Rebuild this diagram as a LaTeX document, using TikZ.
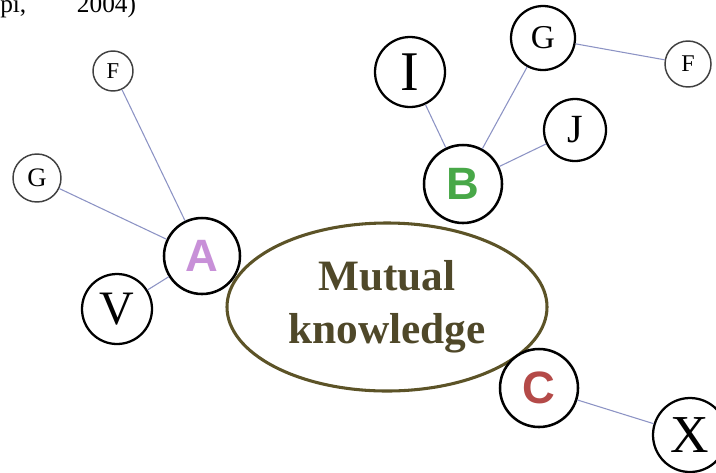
\documentclass[tikz,border=0pt]{standalone}
\usepackage{fontspec}
\setmainfont{Liberation Serif}
\setsansfont{Liberation Sans}
\usetikzlibrary{shapes.geometric}
\definecolor{linkblue}{HTML}{8C93C4}
\definecolor{olive}{HTML}{5C5327}
\definecolor{olivetext}{HTML}{4F4829}
\definecolor{orchidA}{HTML}{C890D8}
\definecolor{greenB}{HTML}{48A848}
\definecolor{redC}{HTML}{B44A48}

\begin{document}
\begin{tikzpicture}[x=0.75pt,y=-0.75pt]
    \tikzstyle{agent}=[circle,draw=black,fill=white,line width=1.9pt,inner sep=0pt,minimum size=57pt,font=\sffamily\bfseries\fontsize{34}{34}\selectfont]
    \tikzstyle{concept}=[circle,draw=black,fill=white,line width=1.7pt,inner sep=0pt]
    \tikzstyle{small concept}=[concept,draw=black!75,line width=1.1pt]
    \tikzstyle{link}=[draw=linkblue,line width=0.8pt]
    \tikzstyle{core}=[ellipse,draw=olive,line width=2.3pt,fill=white,minimum width=240pt,minimum height=126pt,align=center,text=olivetext,font=\bfseries\fontsize{32.5}{40}\selectfont]

    \useasboundingbox (0,0) rectangle (716,472);
    \clip (0,0) rectangle (716,472);

    % cut-off citation at the top edge
    \node[anchor=base west,inner sep=0pt,font=\fontsize{19}{19}\selectfont] (cite) at (0,12) {pi,\hspace{38pt}2004)};

    % centre
    \node[core] (MK) at (387,307) {Mutual\\knowledge};

    % agents
    \node[agent,text=orchidA] (A) at (202,256) {A};
    \node[agent,text=greenB,minimum size=58.5pt] (B) at (463,184) {B};
    \node[agent,text=redC,minimum size=58.5pt] (C) at (539,388) {C};

    % concepts round A
    \node[concept,minimum size=52.5pt,font=\fontsize{36}{36}\selectfont] (V) at (117,309) {V};
    \node[small concept,minimum size=36pt,font=\fontsize{20}{20}\selectfont] (GA) at (37,178) {G};
    \node[small concept,minimum size=30pt,font=\fontsize{17}{17}\selectfont] (FA) at (113,71) {F};

    % concepts round B
    \node[concept,minimum size=52.5pt,font=\fontsize{42}{42}\selectfont] (I) at (410,72) {I};
    \node[concept,minimum size=48pt,font=\fontsize{25}{25}\selectfont] (GB) at (543,38) {G};
    \node[small concept,minimum size=34.5pt,font=\fontsize{18}{18}\selectfont] (FB) at (688,64) {F};
    \node[concept,minimum size=46.5pt,font=\fontsize{30}{30}\selectfont] (J) at (575,130) {J};

    % concept of C
    \node[concept,minimum size=55.5pt,font=\fontsize{40}{40}\selectfont] (X) at (690,435) {X};

    \draw[link] (FA) -- (A);
    \draw[link] (GA) -- (A);
    \draw[link] (V) -- (A);
    \draw[link] (I) -- (B);
    \draw[link] (GB) -- (B);
    \draw[link] (J) -- (B);
    \draw[link] (GB) -- (FB);
    \draw[link] (C) -- (X);
\end{tikzpicture}
\end{document}
